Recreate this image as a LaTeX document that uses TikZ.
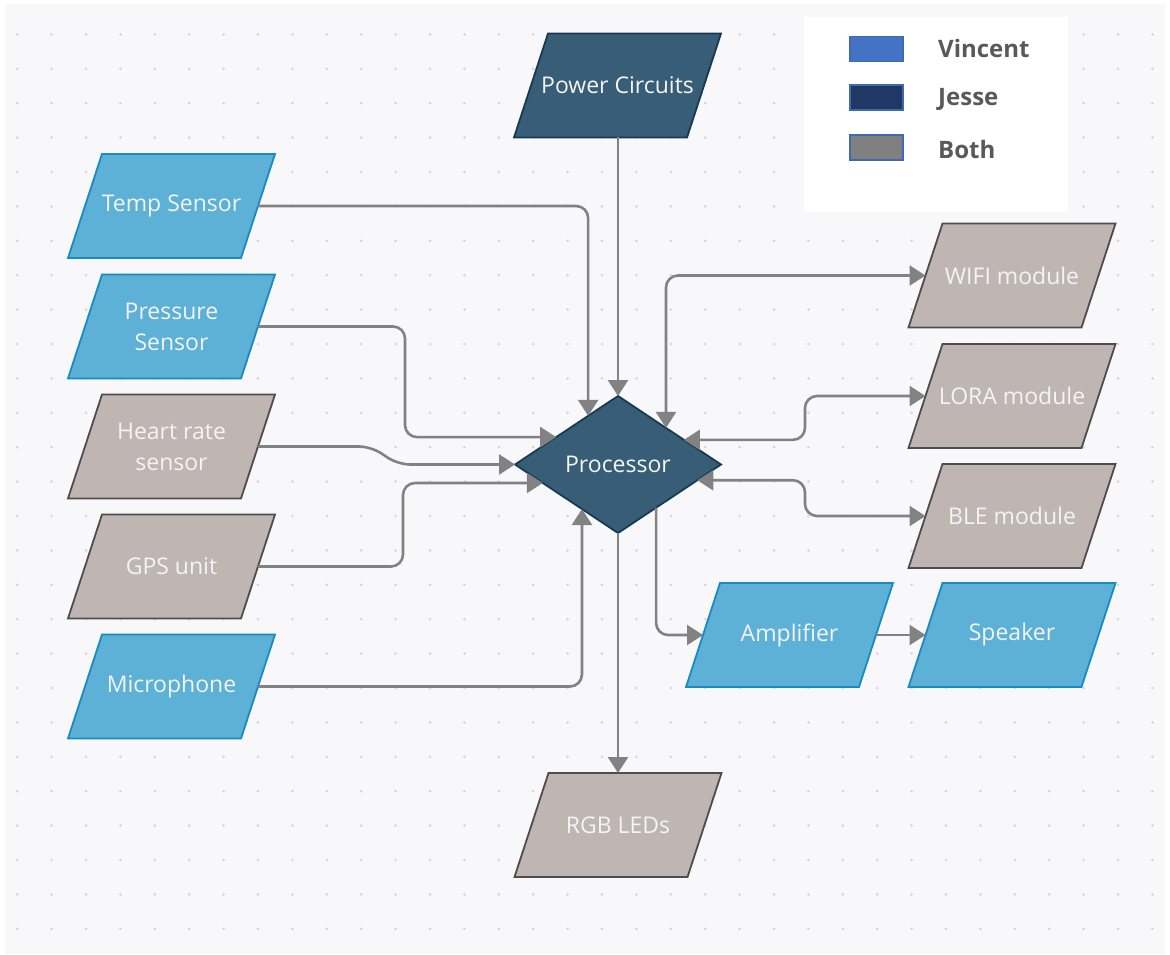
\documentclass[tikz,border=0pt]{standalone}
\usepackage{fontspec}
\setmainfont{Open Sans}
\usetikzlibrary{shapes.geometric,arrows.meta,calc}
\definecolor{bgcol}{HTML}{F8F8FA}
\definecolor{dotcol}{HTML}{D8D8DC}
\definecolor{bluefill}{HTML}{5DB0D6}
\definecolor{blueline}{HTML}{1A8BC0}
\definecolor{grayfill}{HTML}{BFB5B3}
\definecolor{grayline}{HTML}{4D4D4D}
\definecolor{darkfill}{HTML}{385E77}
\definecolor{darkline}{HTML}{173A52}
\definecolor{linecol}{HTML}{828282}
\definecolor{txtcol}{HTML}{F4F4F4}
\definecolor{legtxt}{HTML}{595959}
\definecolor{vincent}{HTML}{4472C4}
\definecolor{jesse}{HTML}{1F3864}
\definecolor{both}{HTML}{808080}
\definecolor{swline}{HTML}{3F68B5}
% parallelogram: style, name, x, y, text
\newcommand{\pbox}[5]{%
  \path[#1] ({#3-103.5},{#4+52}) -- ({#3+69.5},{#4+52}) -- ({#3+103.5},{#4-52})
     -- ({#3-69.5},{#4-52}) -- cycle;
  \node[ptext] (#2) at (#3,#4) {#5};}
\begin{document}
\begin{tikzpicture}[x=1pt,y=-1pt,
  ptext/.style={rectangle, minimum width=173pt, minimum height=104pt,
    inner sep=0pt, outer sep=0pt, text=txtcol, align=center,
    font=\fontsize{23}{31}\selectfont},
  bluebox/.style={fill=bluefill, draw=blueline, line width=1.8pt, line join=miter},
  graybox/.style={fill=grayfill, draw=grayline, line width=1.8pt},
  darkbox/.style={fill=darkfill, draw=darkline, line width=1.8pt},
  procbox/.style={diamond, aspect=1.5, minimum width=206pt, minimum height=137pt,
    inner sep=0pt, outer sep=0pt, fill=darkfill, draw=darkline, line width=1.8pt,
    text=txtcol, font=\fontsize{23}{31}\selectfont},
  conn/.style={draw=linecol, line width=2.6pt, rounded corners=12pt,
    -{Triangle[length=16pt,width=20pt]}},
  bidir/.style={draw=linecol, line width=2.6pt, rounded corners=12pt,
    {Triangle[length=16pt,width=20pt]}-{Triangle[length=16pt,width=20pt]}},
  swatch/.style={minimum width=53pt, minimum height=25pt, inner sep=0pt,
    draw=swline, line width=1.5pt},
  legtext/.style={anchor=west, text=legtxt, inner sep=0pt,
    font=\fontsize{24}{28}\selectfont\bfseries}
]
\useasboundingbox (0,0) rectangle (1170,955);
\fill[white] (0,0) rectangle (1170,955);
\fill[bgcol] (5,4) rectangle (1165,954);
\foreach \i in {0,...,33}
  \foreach \j in {0,...,26}
    \fill[dotcol] ({17.2+34.4*\i},{34.4+34.4*\j}) circle (1.5pt);

% legend
\node[fill=white, minimum width=264pt, minimum height=195pt, inner sep=0pt,
  anchor=north west] (legend) at (804,17) {};
\node[swatch, fill=vincent] (swV) at (876.5,49) {};
\node[swatch, fill=jesse] (swJ) at (876.5,97.5) {};
\node[swatch, fill=both] (swB) at (876.5,147.5) {};
\node[legtext] (lV) at (938,49) {Vincent};
\node[legtext] (lJ) at (938,99) {Jesse};
\node[legtext] (lB) at (938,149) {Both};

% nodes
\pbox{darkbox}{power}{617.5}{85.5}{Power Circuits}
\node[procbox] (proc) at (618,464.5) {Processor};
\pbox{graybox}{rgb}{618}{825}{RGB LEDs}

\pbox{bluebox}{temp}{171.5}{206}{Temp Sensor}
\pbox{bluebox}{press}{171.5}{326.5}{Pressure\\Sensor}
\pbox{graybox}{heart}{171.5}{446.5}{Heart rate\\sensor}
\pbox{graybox}{gps}{171.5}{566.5}{GPS unit}
\pbox{bluebox}{mic}{171.5}{686.5}{Microphone}

\pbox{graybox}{wifi}{1012}{275.5}{WIFI module}
\pbox{graybox}{lora}{1012}{396}{LORA module}
\pbox{graybox}{ble}{1012}{516}{BLE module}
\pbox{bluebox}{amp}{789.5}{635}{Amplifier}
\pbox{bluebox}{spk}{1012}{635}{Speaker}

% attachment points on the processor
\coordinate (tIn) at ($(proc.west)!0.71!(proc.north)$);
\coordinate (pIn) at ($(proc.west)!0.40!(proc.north)$);
\coordinate (gIn) at ($(proc.west)!0.27!(proc.south)$);
\coordinate (mIn) at ($(proc.west)!0.65!(proc.south)$);
\coordinate (wIn) at ($(proc.north)!0.466!(proc.east)$);
\coordinate (lIn) at ($(proc.east)!0.36!(proc.north)$);
\coordinate (bIn) at ($(proc.east)!0.23!(proc.south)$);
\coordinate (aOut) at ($(proc.east)!0.63!(proc.south)$);
\coordinate (c405) at (405,0);
\coordinate (c403) at (403,0);
\coordinate (c805) at (805,0);

% connectors
\draw[conn] (power.south -| proc.north) -- (proc.north);
\draw[conn] (temp.east) -| (tIn);
\draw[conn] (press.east) -| (c405 |- pIn) -- (pIn);
\draw[conn] (heart.east) -- ++(113,0) -- ([xshift=-117pt]proc.west) -- (proc.west);
\draw[conn] (gps.east) -| (c403 |- gIn) -- (gIn);
\draw[conn] (mic.east) -| (mIn);
\draw[conn] (proc.south) -- (rgb.north -| proc.south);
\draw[conn] (aOut) |- (amp.west);
\draw[conn] (amp.east) -- (spk.west);
\draw[bidir] (wIn) |- (wifi.west);
\draw[bidir] (lIn) -- (c805 |- lIn) -- (c805 |- lora.west) -- (lora.west);
\draw[bidir] (bIn) -- (c805 |- bIn) -- (c805 |- ble.west) -- (ble.west);
\end{tikzpicture}
\end{document}
